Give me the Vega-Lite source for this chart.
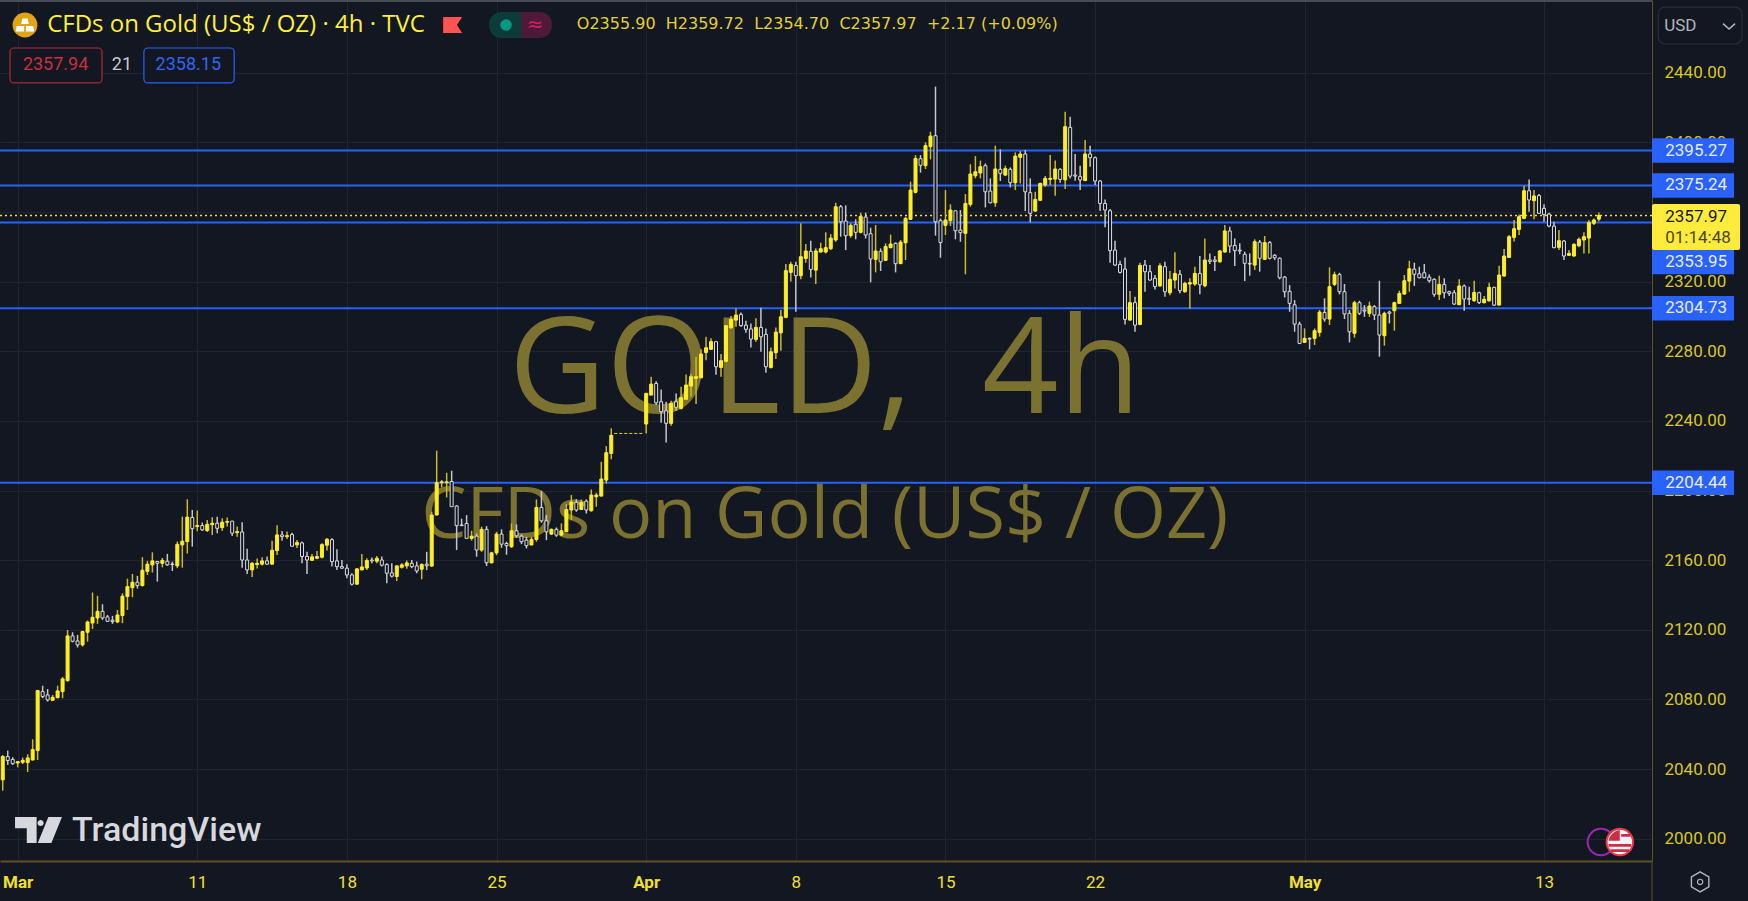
{"$schema":"https://vega.github.io/schema/vega-lite/v6.json","width":1652,"height":861,"autosize":"none","padding":{"left":0,"top":0,"right":96,"bottom":40},"background":"#121722","view":{"stroke":null},"config":{"font":"Roboto","scale":{"continuousPadding":0}},
"datasets":{"levels":[{"price":2395.27,"tag":2395.27},{"price":2375.24,"tag":2375.24},{"price":2353.95,"tag":2331.3},{"price":2304.73,"tag":2304.73},{"price":2204.44,"tag":2204.44}],"gap":[{"from":122.6,"to":128.4,"price":2232.8}],"last":[{"price":2357.97}],
"candles":[
{"bar":0,"open":2033.8,"high":2048.1,"low":2027.6,"close":2047.2},{"bar":1,"open":2047.2,"high":2050.6,"low":2042.4,"close":2044.9},{"bar":2,"open":2045.6,"high":2046.8,"low":2042.4,"close":2043.1},{"bar":3,"open":2043.5,"high":2044.3,"low":2041.0,"close":2044.3},{"bar":4,"open":2043.9,"high":2046.6,"low":2042.9,"close":2045.0},{"bar":5,"open":2043.7,"high":2048.5,"low":2038.3,"close":2046.4},{"bar":6,"open":2045.2,"high":2057.1,"low":2045.0,"close":2051.2},{"bar":7,"open":2050.6,"high":2085.5,"low":2045.2,"close":2085.1},{"bar":8,"open":2084.5,"high":2087.9,"low":2080.7,"close":2081.6},{"bar":9,"open":2082.6,"high":2086.0,"low":2078.8,"close":2079.7},
{"bar":10,"open":2079.5,"high":2082.6,"low":2079.5,"close":2081.2},{"bar":11,"open":2081.0,"high":2087.9,"low":2080.7,"close":2084.9},{"bar":12,"open":2084.5,"high":2092.9,"low":2080.7,"close":2091.8},{"bar":13,"open":2090.8,"high":2119.9,"low":2090.2,"close":2116.5},{"bar":14,"open":2116.5,"high":2118.6,"low":2112.8,"close":2113.4},{"bar":15,"open":2113.6,"high":2117.1,"low":2109.8,"close":2111.3},{"bar":16,"open":2111.3,"high":2119.5,"low":2110.4,"close":2119.0},{"bar":17,"open":2118.6,"high":2125.3,"low":2113.2,"close":2124.5},{"bar":18,"open":2123.9,"high":2141.4,"low":2120.5,"close":2127.2},{"bar":19,"open":2126.8,"high":2139.5,"low":2123.4,"close":2130.6},
{"bar":20,"open":2130.6,"high":2134.7,"low":2125.7,"close":2126.8},{"bar":21,"open":2127.4,"high":2128.5,"low":2124.5,"close":2124.9},{"bar":22,"open":2125.5,"high":2128.0,"low":2123.4,"close":2124.7},{"bar":23,"open":2124.5,"high":2131.4,"low":2123.8,"close":2128.5},{"bar":24,"open":2128.2,"high":2141.0,"low":2123.8,"close":2139.3},{"bar":25,"open":2139.1,"high":2149.4,"low":2131.4,"close":2144.8},{"bar":26,"open":2144.2,"high":2152.1,"low":2138.7,"close":2147.3},{"bar":27,"open":2147.3,"high":2151.0,"low":2143.7,"close":2145.4},{"bar":28,"open":2145.4,"high":2161.7,"low":2144.8,"close":2154.2},{"bar":29,"open":2153.6,"high":2159.6,"low":2151.5,"close":2157.7},
{"bar":30,"open":2157.3,"high":2164.5,"low":2152.9,"close":2159.6},{"bar":31,"open":2159.2,"high":2159.6,"low":2147.7,"close":2158.2},{"bar":32,"open":2158.2,"high":2161.3,"low":2155.9,"close":2159.9},{"bar":33,"open":2159.4,"high":2163.6,"low":2156.7,"close":2157.3},{"bar":34,"open":2157.8,"high":2159.2,"low":2153.8,"close":2157.5},{"bar":35,"open":2156.7,"high":2170.7,"low":2155.4,"close":2169.1},{"bar":36,"open":2168.8,"high":2185.0,"low":2155.7,"close":2170.9},{"bar":37,"open":2170.7,"high":2195.0,"low":2163.8,"close":2184.7},{"bar":38,"open":2184.5,"high":2188.9,"low":2167.8,"close":2178.1},{"bar":39,"open":2179.3,"high":2188.5,"low":2176.6,"close":2179.9},
{"bar":40,"open":2179.9,"high":2181.6,"low":2176.8,"close":2177.4},{"bar":41,"open":2177.0,"high":2183.1,"low":2176.2,"close":2180.6},{"bar":42,"open":2180.4,"high":2184.7,"low":2174.5,"close":2181.2},{"bar":43,"open":2181.2,"high":2185.0,"low":2175.5,"close":2178.3},{"bar":44,"open":2178.7,"high":2184.1,"low":2176.8,"close":2181.8},{"bar":45,"open":2181.8,"high":2184.5,"low":2179.3,"close":2182.2},{"bar":46,"open":2182.4,"high":2182.7,"low":2173.9,"close":2175.5},{"bar":47,"open":2175.8,"high":2179.3,"low":2173.5,"close":2176.4},{"bar":48,"open":2176.2,"high":2181.8,"low":2155.7,"close":2160.1},{"bar":49,"open":2160.1,"high":2166.5,"low":2152.1,"close":2154.4},
{"bar":50,"open":2154.4,"high":2159.0,"low":2150.4,"close":2158.2},{"bar":51,"open":2157.5,"high":2160.9,"low":2155.2,"close":2158.2},{"bar":52,"open":2157.7,"high":2161.7,"low":2156.9,"close":2159.6},{"bar":53,"open":2159.6,"high":2162.1,"low":2157.3,"close":2157.7},{"bar":54,"open":2157.7,"high":2171.1,"low":2157.5,"close":2165.7},{"bar":55,"open":2165.5,"high":2180.1,"low":2163.0,"close":2174.5},{"bar":56,"open":2174.5,"high":2176.8,"low":2171.2,"close":2173.5},{"bar":57,"open":2173.5,"high":2176.4,"low":2172.2,"close":2174.1},{"bar":58,"open":2174.7,"high":2175.8,"low":2167.8,"close":2168.0},{"bar":59,"open":2168.8,"high":2171.6,"low":2167.0,"close":2170.1},
{"bar":60,"open":2169.9,"high":2170.7,"low":2158.2,"close":2162.1},{"bar":61,"open":2162.1,"high":2164.9,"low":2152.1,"close":2160.1},{"bar":62,"open":2159.9,"high":2163.6,"low":2159.8,"close":2161.9},{"bar":63,"open":2161.1,"high":2165.3,"low":2160.5,"close":2162.1},{"bar":64,"open":2161.7,"high":2169.7,"low":2160.9,"close":2168.9},{"bar":65,"open":2168.6,"high":2172.8,"low":2165.5,"close":2172.0},{"bar":66,"open":2171.8,"high":2172.6,"low":2156.3,"close":2159.2},{"bar":67,"open":2159.6,"high":2166.3,"low":2154.4,"close":2156.3},{"bar":68,"open":2156.3,"high":2160.1,"low":2155.0,"close":2155.4},{"bar":69,"open":2155.4,"high":2157.7,"low":2149.6,"close":2151.5},
{"bar":70,"open":2151.5,"high":2152.5,"low":2145.4,"close":2146.2},{"bar":71,"open":2146.2,"high":2155.4,"low":2146.2,"close":2155.0},{"bar":72,"open":2154.4,"high":2163.6,"low":2154.2,"close":2156.1},{"bar":73,"open":2155.5,"high":2161.1,"low":2154.4,"close":2159.8},{"bar":74,"open":2160.1,"high":2161.5,"low":2158.2,"close":2159.6},{"bar":75,"open":2159.4,"high":2162.4,"low":2158.2,"close":2161.1},{"bar":76,"open":2160.1,"high":2162.1,"low":2156.3,"close":2157.1},{"bar":77,"open":2157.5,"high":2158.2,"low":2146.7,"close":2152.5},{"bar":78,"open":2152.7,"high":2158.2,"low":2150.0,"close":2150.8},{"bar":79,"open":2150.6,"high":2157.1,"low":2148.1,"close":2156.7},
{"bar":80,"open":2155.9,"high":2158.2,"low":2155.2,"close":2157.3},{"bar":81,"open":2156.7,"high":2159.8,"low":2155.0,"close":2158.4},{"bar":82,"open":2158.2,"high":2160.1,"low":2155.4,"close":2156.3},{"bar":83,"open":2156.7,"high":2159.2,"low":2152.5,"close":2153.8},{"bar":84,"open":2154.8,"high":2158.2,"low":2149.0,"close":2157.5},{"bar":85,"open":2157.7,"high":2164.8,"low":2154.3,"close":2156.8},{"bar":86,"open":2156.6,"high":2187.8,"low":2156.2,"close":2185.9},{"bar":87,"open":2185.9,"high":2222.9,"low":2185.9,"close":2204.5},{"bar":88,"open":2204.5,"high":2206.0,"low":2201.8,"close":2205.0},{"bar":89,"open":2204.5,"high":2210.2,"low":2196.0,"close":2205.0},
{"bar":90,"open":2205.2,"high":2211.4,"low":2190.7,"close":2190.7},{"bar":91,"open":2191.1,"high":2191.6,"low":2165.8,"close":2179.8},{"bar":92,"open":2180.2,"high":2183.8,"low":2179.8,"close":2179.8},{"bar":93,"open":2181.1,"high":2185.9,"low":2172.5,"close":2172.5},{"bar":94,"open":2172.5,"high":2176.9,"low":2171.2,"close":2173.8},{"bar":95,"open":2173.8,"high":2175.4,"low":2162.0,"close":2165.8},{"bar":96,"open":2165.8,"high":2179.2,"low":2164.8,"close":2177.7},{"bar":97,"open":2177.7,"high":2179.6,"low":2156.6,"close":2158.5},{"bar":98,"open":2158.5,"high":2164.8,"low":2158.1,"close":2164.2},{"bar":99,"open":2164.2,"high":2176.3,"low":2162.9,"close":2175.0},
{"bar":100,"open":2175.0,"high":2177.7,"low":2167.1,"close":2169.2},{"bar":101,"open":2169.6,"high":2170.6,"low":2163.1,"close":2168.3},{"bar":102,"open":2167.7,"high":2181.1,"low":2167.1,"close":2176.9},{"bar":103,"open":2176.9,"high":2180.5,"low":2172.9,"close":2174.0},{"bar":104,"open":2173.8,"high":2174.8,"low":2169.2,"close":2170.6},{"bar":105,"open":2171.5,"high":2173.4,"low":2166.7,"close":2168.3},{"bar":106,"open":2168.7,"high":2173.4,"low":2168.7,"close":2171.9},{"bar":107,"open":2171.9,"high":2194.9,"low":2170.6,"close":2190.3},{"bar":108,"open":2190.3,"high":2199.9,"low":2181.5,"close":2182.6},{"bar":109,"open":2182.6,"high":2185.9,"low":2171.5,"close":2176.3},
{"bar":110,"open":2175.0,"high":2178.2,"low":2174.4,"close":2177.7},{"bar":111,"open":2177.7,"high":2178.8,"low":2173.4,"close":2174.4},{"bar":112,"open":2174.4,"high":2181.1,"low":2173.8,"close":2176.9},{"bar":113,"open":2176.3,"high":2192.2,"low":2176.3,"close":2189.1},{"bar":114,"open":2188.8,"high":2197.4,"low":2183.0,"close":2193.4},{"bar":115,"open":2193.2,"high":2195.1,"low":2187.8,"close":2188.8},{"bar":116,"open":2189.1,"high":2194.9,"low":2188.8,"close":2193.2},{"bar":117,"open":2193.9,"high":2194.9,"low":2186.8,"close":2188.8},{"bar":118,"open":2188.4,"high":2200.6,"low":2187.8,"close":2197.4},{"bar":119,"open":2196.4,"high":2198.7,"low":2190.7,"close":2197.4},
{"bar":120,"open":2196.8,"high":2216.5,"low":2196.8,"close":2206.6},{"bar":121,"open":2206.0,"high":2225.5,"low":2204.1,"close":2221.7},{"bar":122,"open":2221.3,"high":2235.7,"low":2217.9,"close":2231.7},
{"bar":129,"open":2238.2,"high":2256.2,"low":2232.8,"close":2255.8},
{"bar":130,"open":2254.8,"high":2265.4,"low":2254.8,"close":2261.1},{"bar":131,"open":2261.5,"high":2262.7,"low":2249.1,"close":2250.4},{"bar":132,"open":2251.0,"high":2258.1,"low":2238.9,"close":2245.3},{"bar":133,"open":2245.8,"high":2251.0,"low":2227.6,"close":2238.6},{"bar":134,"open":2238.6,"high":2251.6,"low":2237.2,"close":2250.0},{"bar":135,"open":2251.0,"high":2255.8,"low":2245.8,"close":2247.8},{"bar":136,"open":2247.2,"high":2259.6,"low":2246.6,"close":2253.3},{"bar":137,"open":2252.4,"high":2266.7,"low":2252.0,"close":2260.6},{"bar":138,"open":2260.0,"high":2266.9,"low":2253.9,"close":2265.4},{"bar":139,"open":2264.4,"high":2276.9,"low":2249.7,"close":2265.4},
{"bar":140,"open":2264.8,"high":2281.1,"low":2264.4,"close":2278.4},{"bar":141,"open":2279.3,"high":2288.3,"low":2274.9,"close":2282.0},{"bar":142,"open":2281.1,"high":2287.4,"low":2280.7,"close":2285.5},{"bar":143,"open":2285.5,"high":2285.5,"low":2266.5,"close":2271.1},{"bar":144,"open":2270.7,"high":2278.4,"low":2265.4,"close":2274.6},{"bar":145,"open":2274.2,"high":2295.0,"low":2273.6,"close":2294.7},{"bar":146,"open":2293.5,"high":2300.2,"low":2292.8,"close":2298.3},{"bar":147,"open":2297.9,"high":2304.6,"low":2294.1,"close":2300.8},{"bar":148,"open":2301.2,"high":2302.3,"low":2294.1,"close":2294.7},{"bar":149,"open":2295.0,"high":2297.5,"low":2290.6,"close":2292.6},
{"bar":150,"open":2292.8,"high":2296.0,"low":2282.2,"close":2287.0},{"bar":151,"open":2286.8,"high":2298.9,"low":2285.5,"close":2293.7},{"bar":152,"open":2293.7,"high":2305.0,"low":2279.7,"close":2288.3},{"bar":153,"open":2289.7,"high":2293.1,"low":2267.7,"close":2271.1},{"bar":154,"open":2270.7,"high":2282.2,"low":2270.1,"close":2279.7},{"bar":155,"open":2279.2,"high":2293.7,"low":2275.5,"close":2291.0},{"bar":156,"open":2290.6,"high":2303.7,"low":2280.3,"close":2299.8},{"bar":157,"open":2299.5,"high":2330.1,"low":2298.9,"close":2326.3},{"bar":158,"open":2325.3,"high":2331.4,"low":2320.0,"close":2329.9},{"bar":159,"open":2329.3,"high":2331.4,"low":2302.7,"close":2323.4},
{"bar":160,"open":2323.4,"high":2353.5,"low":2321.3,"close":2334.3},{"bar":161,"open":2333.3,"high":2341.6,"low":2330.9,"close":2337.6},{"bar":162,"open":2337.4,"high":2343.5,"low":2322.4,"close":2327.0},{"bar":163,"open":2326.6,"high":2339.1,"low":2318.6,"close":2337.6},{"bar":164,"open":2337.0,"high":2342.3,"low":2336.6,"close":2338.9},{"bar":165,"open":2337.0,"high":2348.3,"low":2336.2,"close":2339.5},{"bar":166,"open":2338.9,"high":2347.3,"low":2338.1,"close":2345.0},{"bar":167,"open":2343.9,"high":2365.3,"low":2342.9,"close":2363.0},{"bar":168,"open":2363.0,"high":2364.0,"low":2345.8,"close":2354.4},{"bar":169,"open":2354.8,"high":2363.8,"low":2338.1,"close":2346.4},
{"bar":170,"open":2346.4,"high":2353.5,"low":2345.2,"close":2352.3},{"bar":171,"open":2352.9,"high":2355.8,"low":2344.3,"close":2348.3},{"bar":172,"open":2348.3,"high":2359.6,"low":2347.7,"close":2357.5},{"bar":173,"open":2357.1,"high":2359.6,"low":2344.8,"close":2346.8},{"bar":174,"open":2347.5,"high":2351.0,"low":2319.6,"close":2333.0},{"bar":175,"open":2332.8,"high":2352.5,"low":2325.3,"close":2337.6},{"bar":176,"open":2337.4,"high":2339.1,"low":2326.1,"close":2331.4},{"bar":177,"open":2332.2,"high":2342.0,"low":2331.8,"close":2340.2},{"bar":178,"open":2339.5,"high":2347.0,"low":2339.1,"close":2341.6},{"bar":179,"open":2342.0,"high":2342.5,"low":2325.3,"close":2330.3},
{"bar":180,"open":2330.3,"high":2343.9,"low":2330.1,"close":2342.7},{"bar":181,"open":2342.3,"high":2357.3,"low":2332.4,"close":2356.3},{"bar":182,"open":2355.8,"high":2377.4,"low":2355.4,"close":2372.6},{"bar":183,"open":2371.3,"high":2392.7,"low":2370.7,"close":2390.8},{"bar":184,"open":2390.6,"high":2392.7,"low":2382.6,"close":2386.8},{"bar":185,"open":2386.6,"high":2400.0,"low":2384.7,"close":2398.1},{"bar":186,"open":2397.5,"high":2406.1,"low":2390.2,"close":2403.6},{"bar":187,"open":2403.8,"high":2432.0,"low":2346.4,"close":2354.4},{"bar":188,"open":2355.0,"high":2356.3,"low":2333.7,"close":2342.5},{"bar":189,"open":2352.3,"high":2372.6,"low":2346.8,"close":2355.4},
{"bar":190,"open":2355.0,"high":2364.4,"low":2351.9,"close":2361.1},{"bar":191,"open":2360.7,"high":2360.7,"low":2344.3,"close":2349.2},{"bar":192,"open":2349.6,"high":2361.1,"low":2342.9,"close":2348.1},{"bar":193,"open":2347.7,"high":2370.3,"low":2324.2,"close":2364.9},{"bar":194,"open":2364.4,"high":2387.4,"low":2363.0,"close":2381.8},{"bar":195,"open":2380.8,"high":2392.1,"low":2379.3,"close":2383.1},{"bar":196,"open":2382.4,"high":2389.5,"low":2379.3,"close":2386.0},{"bar":197,"open":2386.6,"high":2387.9,"low":2362.6,"close":2371.6},{"bar":198,"open":2372.0,"high":2379.3,"low":2364.9,"close":2365.3},{"bar":199,"open":2365.3,"high":2398.1,"low":2363.0,"close":2384.7},
{"bar":200,"open":2384.5,"high":2396.0,"low":2377.8,"close":2382.2},{"bar":201,"open":2381.2,"high":2386.6,"low":2380.6,"close":2384.9},{"bar":202,"open":2384.5,"high":2385.6,"low":2374.1,"close":2376.8},{"bar":203,"open":2376.8,"high":2394.2,"low":2372.6,"close":2392.1},{"bar":204,"open":2391.4,"high":2395.0,"low":2376.4,"close":2393.3},{"bar":205,"open":2393.3,"high":2395.6,"low":2360.5,"close":2371.6},{"bar":206,"open":2371.1,"high":2379.3,"low":2354.0,"close":2359.2},{"bar":207,"open":2360.5,"high":2371.6,"low":2360.2,"close":2367.2},{"bar":208,"open":2366.7,"high":2377.0,"low":2366.5,"close":2376.4},{"bar":209,"open":2375.5,"high":2380.6,"low":2374.5,"close":2379.3},
{"bar":210,"open":2378.7,"high":2392.7,"low":2375.5,"close":2379.3},{"bar":211,"open":2378.9,"high":2389.5,"low":2369.3,"close":2384.7},{"bar":212,"open":2384.5,"high":2385.1,"low":2376.8,"close":2378.7},{"bar":213,"open":2378.4,"high":2417.6,"low":2373.2,"close":2409.0},{"bar":214,"open":2408.6,"high":2414.7,"low":2379.3,"close":2380.6},{"bar":215,"open":2381.2,"high":2393.3,"low":2378.0,"close":2380.6},{"bar":216,"open":2380.3,"high":2386.6,"low":2372.6,"close":2378.4},{"bar":217,"open":2378.0,"high":2401.3,"low":2377.8,"close":2393.3},{"bar":218,"open":2393.3,"high":2398.1,"low":2386.0,"close":2391.2},{"bar":219,"open":2391.2,"high":2391.8,"low":2375.5,"close":2377.8},
{"bar":220,"open":2377.8,"high":2378.4,"low":2360.5,"close":2364.9},{"bar":221,"open":2364.9,"high":2367.2,"low":2351.2,"close":2361.1},{"bar":222,"open":2360.7,"high":2361.7,"low":2330.9,"close":2337.8},{"bar":223,"open":2338.1,"high":2343.5,"low":2328.9,"close":2329.5},{"bar":224,"open":2329.9,"high":2332.0,"low":2324.7,"close":2325.3},{"bar":225,"open":2327.2,"high":2333.9,"low":2295.4,"close":2298.3},{"bar":226,"open":2297.9,"high":2314.6,"low":2297.5,"close":2307.9},{"bar":227,"open":2307.9,"high":2311.3,"low":2291.2,"close":2295.0},{"bar":228,"open":2295.4,"high":2330.9,"low":2295.0,"close":2329.3},{"bar":229,"open":2329.5,"high":2332.4,"low":2314.2,"close":2325.7},
{"bar":230,"open":2325.7,"high":2329.5,"low":2320.5,"close":2320.9},{"bar":231,"open":2321.9,"high":2323.8,"low":2315.5,"close":2317.1},{"bar":232,"open":2317.5,"high":2330.5,"low":2317.1,"close":2329.1},{"bar":233,"open":2328.6,"high":2331.4,"low":2311.3,"close":2314.2},{"bar":234,"open":2313.6,"high":2326.1,"low":2312.1,"close":2321.3},{"bar":235,"open":2320.9,"high":2336.8,"low":2316.1,"close":2324.7},{"bar":236,"open":2324.2,"high":2326.7,"low":2313.3,"close":2314.8},{"bar":237,"open":2314.2,"high":2319.9,"low":2313.6,"close":2319.0},{"bar":238,"open":2318.6,"high":2321.9,"low":2304.6,"close":2319.4},{"bar":239,"open":2318.6,"high":2328.6,"low":2317.6,"close":2324.7},
{"bar":240,"open":2324.7,"high":2334.7,"low":2312.7,"close":2318.2},{"bar":241,"open":2317.6,"high":2344.8,"low":2316.7,"close":2332.4},{"bar":242,"open":2332.4,"high":2336.2,"low":2330.1,"close":2331.6},{"bar":243,"open":2332.4,"high":2334.7,"low":2326.1,"close":2331.6},{"bar":244,"open":2331.4,"high":2338.1,"low":2330.9,"close":2337.6},{"bar":245,"open":2337.0,"high":2352.5,"low":2336.6,"close":2349.1},{"bar":246,"open":2349.1,"high":2351.5,"low":2336.6,"close":2340.4},{"bar":247,"open":2340.8,"high":2344.8,"low":2329.0,"close":2337.8},{"bar":248,"open":2338.1,"high":2342.0,"low":2335.7,"close":2337.6},{"bar":249,"open":2335.7,"high":2337.2,"low":2320.3,"close":2330.5},
{"bar":250,"open":2330.5,"high":2336.2,"low":2323.4,"close":2330.1},{"bar":251,"open":2329.5,"high":2344.3,"low":2326.7,"close":2342.9},{"bar":252,"open":2342.7,"high":2343.9,"low":2325.7,"close":2333.4},{"bar":253,"open":2332.8,"high":2346.2,"low":2332.4,"close":2342.4},{"bar":254,"open":2342.4,"high":2343.3,"low":2332.8,"close":2333.4},{"bar":255,"open":2335.1,"high":2335.8,"low":2332.4,"close":2333.7},{"bar":256,"open":2333.4,"high":2333.9,"low":2321.3,"close":2322.2},{"bar":257,"open":2322.6,"high":2323.2,"low":2310.9,"close":2314.2},{"bar":258,"open":2314.4,"high":2318.0,"low":2302.7,"close":2307.5},{"bar":259,"open":2306.7,"high":2309.4,"low":2291.2,"close":2295.6},
{"bar":260,"open":2295.6,"high":2297.0,"low":2284.1,"close":2284.5},{"bar":261,"open":2285.1,"high":2293.1,"low":2284.9,"close":2287.4},{"bar":262,"open":2287.4,"high":2288.0,"low":2281.1,"close":2287.0},{"bar":263,"open":2287.4,"high":2293.1,"low":2283.6,"close":2291.8},{"bar":264,"open":2290.8,"high":2303.7,"low":2288.4,"close":2302.5},{"bar":265,"open":2302.3,"high":2310.4,"low":2297.0,"close":2298.5},{"bar":266,"open":2298.5,"high":2328.2,"low":2295.1,"close":2317.1},{"bar":267,"open":2318.4,"high":2325.7,"low":2317.5,"close":2324.0},{"bar":268,"open":2324.0,"high":2325.1,"low":2312.7,"close":2314.2},{"bar":269,"open":2314.2,"high":2318.6,"low":2298.5,"close":2301.4},
{"bar":270,"open":2301.8,"high":2303.7,"low":2285.1,"close":2291.2},{"bar":271,"open":2290.3,"high":2309.0,"low":2287.8,"close":2307.9},{"bar":272,"open":2307.9,"high":2309.0,"low":2300.8,"close":2301.8},{"bar":273,"open":2303.7,"high":2306.5,"low":2299.8,"close":2303.1},{"bar":274,"open":2301.8,"high":2308.5,"low":2299.8,"close":2306.0},{"bar":275,"open":2305.6,"high":2306.5,"low":2297.9,"close":2300.8},{"bar":276,"open":2300.8,"high":2320.5,"low":2276.9,"close":2289.3},{"bar":277,"open":2288.9,"high":2302.7,"low":2283.2,"close":2301.8},{"bar":278,"open":2302.5,"high":2303.3,"low":2296.0,"close":2301.8},{"bar":279,"open":2303.3,"high":2308.5,"low":2291.8,"close":2307.9},
{"bar":280,"open":2307.5,"high":2314.8,"low":2307.1,"close":2313.2},{"bar":281,"open":2312.9,"high":2323.8,"low":2312.3,"close":2320.5},{"bar":282,"open":2320.3,"high":2332.0,"low":2314.2,"close":2327.4},{"bar":283,"open":2327.2,"high":2330.9,"low":2317.5,"close":2324.2},{"bar":284,"open":2324.5,"high":2328.6,"low":2321.9,"close":2322.2},{"bar":285,"open":2325.1,"high":2330.1,"low":2321.9,"close":2322.2},{"bar":286,"open":2322.6,"high":2324.2,"low":2319.4,"close":2320.5},{"bar":287,"open":2321.3,"high":2321.9,"low":2311.3,"close":2312.7},{"bar":288,"open":2312.7,"high":2323.4,"low":2309.4,"close":2318.4},{"bar":289,"open":2318.4,"high":2321.9,"low":2310.4,"close":2313.6},
{"bar":290,"open":2314.2,"high":2314.8,"low":2311.7,"close":2313.2},{"bar":291,"open":2313.6,"high":2315.2,"low":2306.5,"close":2307.1},{"bar":292,"open":2306.7,"high":2321.3,"low":2306.5,"close":2317.5},{"bar":293,"open":2317.5,"high":2318.4,"low":2303.3,"close":2310.0},{"bar":294,"open":2310.4,"high":2317.1,"low":2306.5,"close":2309.8},{"bar":295,"open":2309.0,"high":2320.5,"low":2308.5,"close":2313.8},{"bar":296,"open":2313.6,"high":2314.2,"low":2307.1,"close":2307.9},{"bar":297,"open":2307.9,"high":2311.7,"low":2307.5,"close":2309.8},{"bar":298,"open":2309.0,"high":2319.4,"low":2308.5,"close":2316.7},{"bar":299,"open":2316.7,"high":2317.1,"low":2306.0,"close":2306.5},
{"bar":300,"open":2306.5,"high":2329.1,"low":2306.5,"close":2323.8},{"bar":301,"open":2323.2,"high":2338.7,"low":2322.8,"close":2334.7},{"bar":302,"open":2333.9,"high":2346.8,"low":2333.5,"close":2345.8},{"bar":303,"open":2345.4,"high":2355.4,"low":2343.1,"close":2350.4},{"bar":304,"open":2350.0,"high":2358.6,"low":2346.8,"close":2357.3},{"bar":305,"open":2356.3,"high":2375.1,"low":2355.8,"close":2372.2},{"bar":306,"open":2372.2,"high":2378.7,"low":2360.2,"close":2366.9},{"bar":307,"open":2366.5,"high":2372.6,"low":2355.8,"close":2369.2},{"bar":308,"open":2369.4,"high":2370.3,"low":2358.8,"close":2359.2},{"bar":309,"open":2362.1,"high":2364.4,"low":2354.4,"close":2358.6},
{"bar":310,"open":2358.8,"high":2359.6,"low":2351.2,"close":2351.9},{"bar":311,"open":2351.9,"high":2354.4,"low":2339.1,"close":2339.5},{"bar":312,"open":2339.7,"high":2349.6,"low":2338.1,"close":2343.5},{"bar":313,"open":2343.3,"high":2343.9,"low":2332.4,"close":2334.7},{"bar":314,"open":2335.1,"high":2338.1,"low":2334.7,"close":2336.2},{"bar":315,"open":2334.7,"high":2342.0,"low":2334.3,"close":2341.4},{"bar":316,"open":2340.6,"high":2345.4,"low":2339.7,"close":2344.3},{"bar":317,"open":2343.9,"high":2348.3,"low":2336.2,"close":2345.8},{"bar":318,"open":2345.0,"high":2355.4,"low":2336.2,"close":2354.0},{"bar":319,"open":2353.5,"high":2356.3,"low":2352.5,"close":2355.4},
{"bar":320,"open":2355.9,"high":2359.72,"low":2354.7,"close":2357.97}
]},
"layer":[
{"data":{"values":[{"label":"GOLD,\u00a0\u00a04h"}]},"mark":{"type":"text","font":"Open Sans","fontSize":134,"align":"center","baseline":"alphabetic","color":"#7b7130"},"encoding":{"x":{"datum":164.8,"type":"quantitative","scale":{"domain":[-0.549,330.65],"nice":false,"zero":false},"axis":{"title":null,"orient":"bottom","values":[3,39,69,99,129,159,189,219,261,309],"labelExpr":"({'3':'Mar','39':'11','69':'18','99':'25','129':'Apr','159':'8','189':'15','219':'22','261':'May','309':'13'})[datum.value]","labelColor":"#f2e02a","labelFont":"Roboto","labelFontSize":17,"labelFontWeight":{"condition":{"test":"datum.value==3||datum.value==129||datum.value==261","value":"bold"},"value":"normal"},"labelPadding":13,"tickSize":0,"grid":true,"gridColor":"#1f2430","gridWidth":1,"domainColor":"#5c5326","domainWidth":2,"labelOverlap":false,"labelFlush":false}},"y":{"datum":2244.5,"type":"quantitative","scale":{"domain":[1987.2,2481.76],"nice":false,"zero":false},"axis":{"title":null,"orient":"right","values":[2000,2040,2080,2120,2160,2200,2240,2280,2320,2360,2400,2440],"format":".2f","labelColor":"#d9c820","labelFont":"Roboto","labelFontSize":17,"labelPadding":12,"tickSize":0,"grid":true,"gridColor":"#1f2430","gridWidth":1,"domainColor":"#5c5326","domainWidth":1,"labelOverlap":false}},"text":{"field":"label"}}},
{"data":{"values":[{"label":"CFDs on Gold (US$ / OZ)"}]},"mark":{"type":"text","font":"Open Sans","fontSize":72,"align":"center","baseline":"alphabetic","color":"#7b7130"},"encoding":{"x":{"datum":164.8},"y":{"datum":2172.7},"text":{"field":"label"}}},
{"data":{"name":"levels"},"mark":{"type":"rule","color":"#2962ff","strokeWidth":2},"encoding":{"y":{"field":"price","type":"quantitative"}}},
{"data":{"name":"last"},"mark":{"type":"rule","color":"#f5e02a","strokeWidth":1.3,"strokeDash":[2,3]},"encoding":{"y":{"field":"price","type":"quantitative"}}},
{"data":{"name":"gap"},"mark":{"type":"rule","color":"#e8d52a","strokeWidth":1,"strokeDash":[3,2]},"encoding":{"x":{"field":"from","type":"quantitative"},"x2":{"field":"to"},"y":{"field":"price","type":"quantitative"}}},
{"data":{"name":"candles"},"mark":{"type":"rule","strokeWidth":1.5},"encoding":{"x":{"field":"bar","type":"quantitative"},"y":{"field":"low","type":"quantitative"},"y2":{"field":"high"},"stroke":{"condition":{"test":"datum.close>=datum.open","value":"#cdbb1e"},"value":"#c4c6cc"}}},
{"data":{"name":"candles"},"mark":{"type":"bar","size":3,"strokeWidth":1,"orient":"vertical"},"encoding":{"x":{"field":"bar","type":"quantitative"},"y":{"field":"open","type":"quantitative"},"y2":{"field":"close"},"fill":{"condition":{"test":"datum.close>=datum.open","value":"#ffee22"},"value":"#121722"},"stroke":{"condition":{"test":"datum.close>=datum.open","value":"#ffee22"},"value":"#d8dae0"}}},
{"data":{"name":"levels"},"mark":{"type":"rule","color":"#2962ff","strokeWidth":24.5},"encoding":{"x":{"datum":330.65},"x2":{"datum":347.1},"y":{"field":"tag","type":"quantitative"}}},
{"data":{"name":"levels"},"mark":{"type":"text","font":"Roboto","fontSize":17,"align":"left","baseline":"middle","color":"#e6ecff"},"encoding":{"x":{"datum":333.3},"y":{"field":"tag","type":"quantitative"},"text":{"field":"price","type":"quantitative","format":".2f"}}},
{"data":{"values":[{"label":"tag"}]},"mark":{"type":"rect","fill":"#ffeb3b","cornerRadius":2},"encoding":{"x":{"datum":330.65},"x2":{"datum":348.3},"y":{"datum":2364.6},"y2":{"datum":2338.2}}},
{"data":{"values":[{"label":"2357.97"}]},"mark":{"type":"text","font":"Roboto","fontSize":17,"align":"left","baseline":"middle","color":"#16181f"},"encoding":{"x":{"datum":333.3},"y":{"datum":2357.1},"text":{"field":"label"}}},
{"data":{"values":[{"label":"01:14:48"}]},"mark":{"type":"text","font":"Roboto","fontSize":17,"align":"left","baseline":"middle","color":"#4a4720"},"encoding":{"x":{"datum":333.3},"y":{"datum":2345.0},"text":{"field":"label"}}},
{"data":{"values":[{"label":"edge"}]},"mark":{"type":"rule","color":"#5c5326","strokeWidth":1},"encoding":{"x":{"datum":330.65},"y":{"datum":1987.2},"y2":{"datum":1964.2}}},
{"data":{"values":[{"label":"top"}]},"mark":{"type":"rule","color":"#5a5e6a","strokeWidth":1.5},"encoding":{"y":{"datum":2481.2}}},
{"data":{"values":[{"label":"CFDs on Gold (US$ / OZ) · 4h · TVC"}]},"mark":{"type":"text","font":"Open Sans","fontSize":24,"align":"left","baseline":"middle","color":"#fff03a"},"encoding":{"x":{"datum":8.9},"y":{"datum":2467.4},"text":{"field":"label"}}},
{"data":{"values":[{"label":"icon"}]},"mark":{"type":"point","shape":"circle","filled":true,"size":615,"color":"#e3a414","opacity":1},"encoding":{"x":{"datum":4.46},"y":{"datum":2467.4}}},
{"data":{"values":[{"label":"icon"}]},"mark":{"type":"point","shape":"M-0.25,-0.6H0.25L0.35,-0.1H-0.35ZM-0.75,0.1H-0.08V0.6H-0.85ZM0.08,0.1H0.75L0.85,0.6H0.08Z","filled":true,"size":484,"color":"#ffffff","opacity":1},"encoding":{"x":{"datum":4.46},"y":{"datum":2467.4}}},
{"data":{"values":[{"label":"flag"}]},"mark":{"type":"point","shape":"M-1,-0.85H1L0.45,0L1,0.85H-1Z","filled":true,"size":361,"color":"#ff5252","opacity":1},"encoding":{"x":{"datum":90.2},"y":{"datum":2467.4}}},
{"data":{"values":[{"label":"pill"}]},"mark":{"type":"rect","fill":"#0c3b3a","cornerRadius":12},"encoding":{"x":{"datum":97.5},"x2":{"datum":106},"y":{"datum":2474.9},"y2":{"datum":2460}}},
{"data":{"values":[{"label":"pill"}]},"mark":{"type":"rect","fill":"#4e1a3a","cornerRadiusTopRight":12,"cornerRadiusBottomRight":12},"encoding":{"x":{"datum":103.9},"x2":{"datum":110.1},"y":{"datum":2474.9},"y2":{"datum":2460}}},
{"data":{"values":[{"label":"dot"}]},"mark":{"type":"point","shape":"circle","filled":true,"size":133,"color":"#089981","opacity":1},"encoding":{"x":{"datum":100.9},"y":{"datum":2467.4}}},
{"data":{"values":[{"label":"≈"}]},"mark":{"type":"text","font":"DejaVu Sans","fontSize":20,"align":"center","baseline":"middle","color":"#d81b60"},"encoding":{"x":{"datum":106.7},"y":{"datum":2467.4},"text":{"field":"label"}}},
{"data":{"values":[{"label":"O2355.90\u00a0\u00a0H2359.72\u00a0\u00a0L2354.70\u00a0\u00a0C2357.97\u00a0\u00a0+2.17 (+0.09%)"}]},"mark":{"type":"text","font":"DejaVu Sans","fontSize":16,"align":"left","baseline":"middle","color":"#e3d22a"},"encoding":{"x":{"datum":115.1},"y":{"datum":2468},"text":{"field":"label"}}},
{"data":{"values":[{"label":"box"}]},"mark":{"type":"rect","fill":"#121722","stroke":"#b22833","strokeWidth":1.2,"cornerRadius":4},"encoding":{"x":{"datum":1.46},"x2":{"datum":19.9},"y":{"datum":2454.2},"y2":{"datum":2434.1}}},
{"data":{"values":[{"label":"2357.94"}]},"mark":{"type":"text","font":"Roboto","fontSize":18,"align":"center","baseline":"middle","color":"#c9303d"},"encoding":{"x":{"datum":10.6},"y":{"datum":2444.4},"text":{"field":"label"}}},
{"data":{"values":[{"label":"21"}]},"mark":{"type":"text","font":"Roboto","fontSize":18,"align":"center","baseline":"middle","color":"#c8cad0"},"encoding":{"x":{"datum":23.9},"y":{"datum":2444.4},"text":{"field":"label"}}},
{"data":{"values":[{"label":"box"}]},"mark":{"type":"rect","fill":"#121722","stroke":"#2962ff","strokeWidth":1.2,"cornerRadius":4},"encoding":{"x":{"datum":28.3},"x2":{"datum":46.4},"y":{"datum":2454.2},"y2":{"datum":2434.1}}},
{"data":{"values":[{"label":"2358.15"}]},"mark":{"type":"text","font":"Roboto","fontSize":18,"align":"center","baseline":"middle","color":"#2f66f0"},"encoding":{"x":{"datum":37.2},"y":{"datum":2444.4},"text":{"field":"label"}}},
{"data":{"values":[{"label":"box"}]},"mark":{"type":"rect","fill":"#121722","stroke":"#2a2e39","strokeWidth":1.2,"cornerRadius":7},"encoding":{"x":{"datum":331.9},"x2":{"datum":348.7},"y":{"datum":2477.7},"y2":{"datum":2456.5}}},
{"data":{"values":[{"label":"USD"}]},"mark":{"type":"text","font":"Roboto","fontSize":17,"align":"left","baseline":"middle","color":"#b2b5be"},"encoding":{"x":{"datum":333.1},"y":{"datum":2466.8},"text":{"field":"label"}}},
{"data":{"values":[{"label":"chevron"}]},"mark":{"type":"point","shape":"M-1,-0.4L0,0.5L1,-0.4","filled":false,"size":144,"color":"#b2b5be","strokeWidth":1.6,"opacity":1},"encoding":{"x":{"datum":346.1},"y":{"datum":2466.8}}},
{"data":{"values":[{"label":"logo"}]},"mark":{"type":"point","shape":"M-1,-0.55H-0.08V0.55H-0.5V-0.08H-1ZM0.42,-0.55H1L0.55,0.55H-0.03ZM0.22,-0.3A0.13,0.13 0 1 1 -0.04,-0.3A0.13,0.13 0 1 1 0.22,-0.3Z","filled":true,"size":2200,"color":"#d6d8de","opacity":1},"encoding":{"x":{"datum":7.17},"y":{"datum":2005}}},
{"data":{"values":[{"label":"TradingView"}]},"mark":{"type":"text","font":"Roboto","fontSize":34,"fontWeight":500,"align":"left","baseline":"middle","color":"#d6d8de"},"encoding":{"x":{"datum":13.9},"y":{"datum":2004.4},"text":{"field":"label"}}},
{"data":{"values":[{"label":"event"}]},"mark":{"type":"point","shape":"circle","filled":false,"size":700,"color":"#9c27b0","strokeWidth":2,"opacity":1},"encoding":{"x":{"datum":320.4},"y":{"datum":1998.1}}},
{"data":{"values":[{"label":"event"}]},"mark":{"type":"point","shape":"circle","filled":true,"size":700,"fill":"#f4f4f8","stroke":"#f23645","strokeWidth":2,"opacity":1},"encoding":{"x":{"datum":324.2},"y":{"datum":1998.1}}},
{"data":{"values":[{"label":"event"}]},"mark":{"type":"point","shape":"M-0.85,-0.1A1,1 0 0 1 0,-0.9V-0.1ZM-0.85,0.15H0.85V0.35H-0.85ZM-0.7,0.55H0.7V0.75H-0.7ZM0.1,-0.6H0.8V-0.4H0.1Z","filled":true,"size":700,"color":"#c8304a","opacity":1},"encoding":{"x":{"datum":324.2},"y":{"datum":1998.1}}},
{"data":{"values":[{"label":"settings"}]},"mark":{"type":"point","shape":"M0,-1L0.87,-0.5L0.87,0.5L0,1L-0.87,0.5L-0.87,-0.5Z","filled":false,"size":400,"color":"#b2b5be","strokeWidth":1.4,"opacity":1},"encoding":{"x":{"datum":340.3},"y":{"datum":1975.2}}},
{"data":{"values":[{"label":"settings"}]},"mark":{"type":"point","shape":"circle","filled":false,"size":28,"color":"#b2b5be","strokeWidth":1.2,"opacity":1},"encoding":{"x":{"datum":340.3},"y":{"datum":1975.2}}}
]}
